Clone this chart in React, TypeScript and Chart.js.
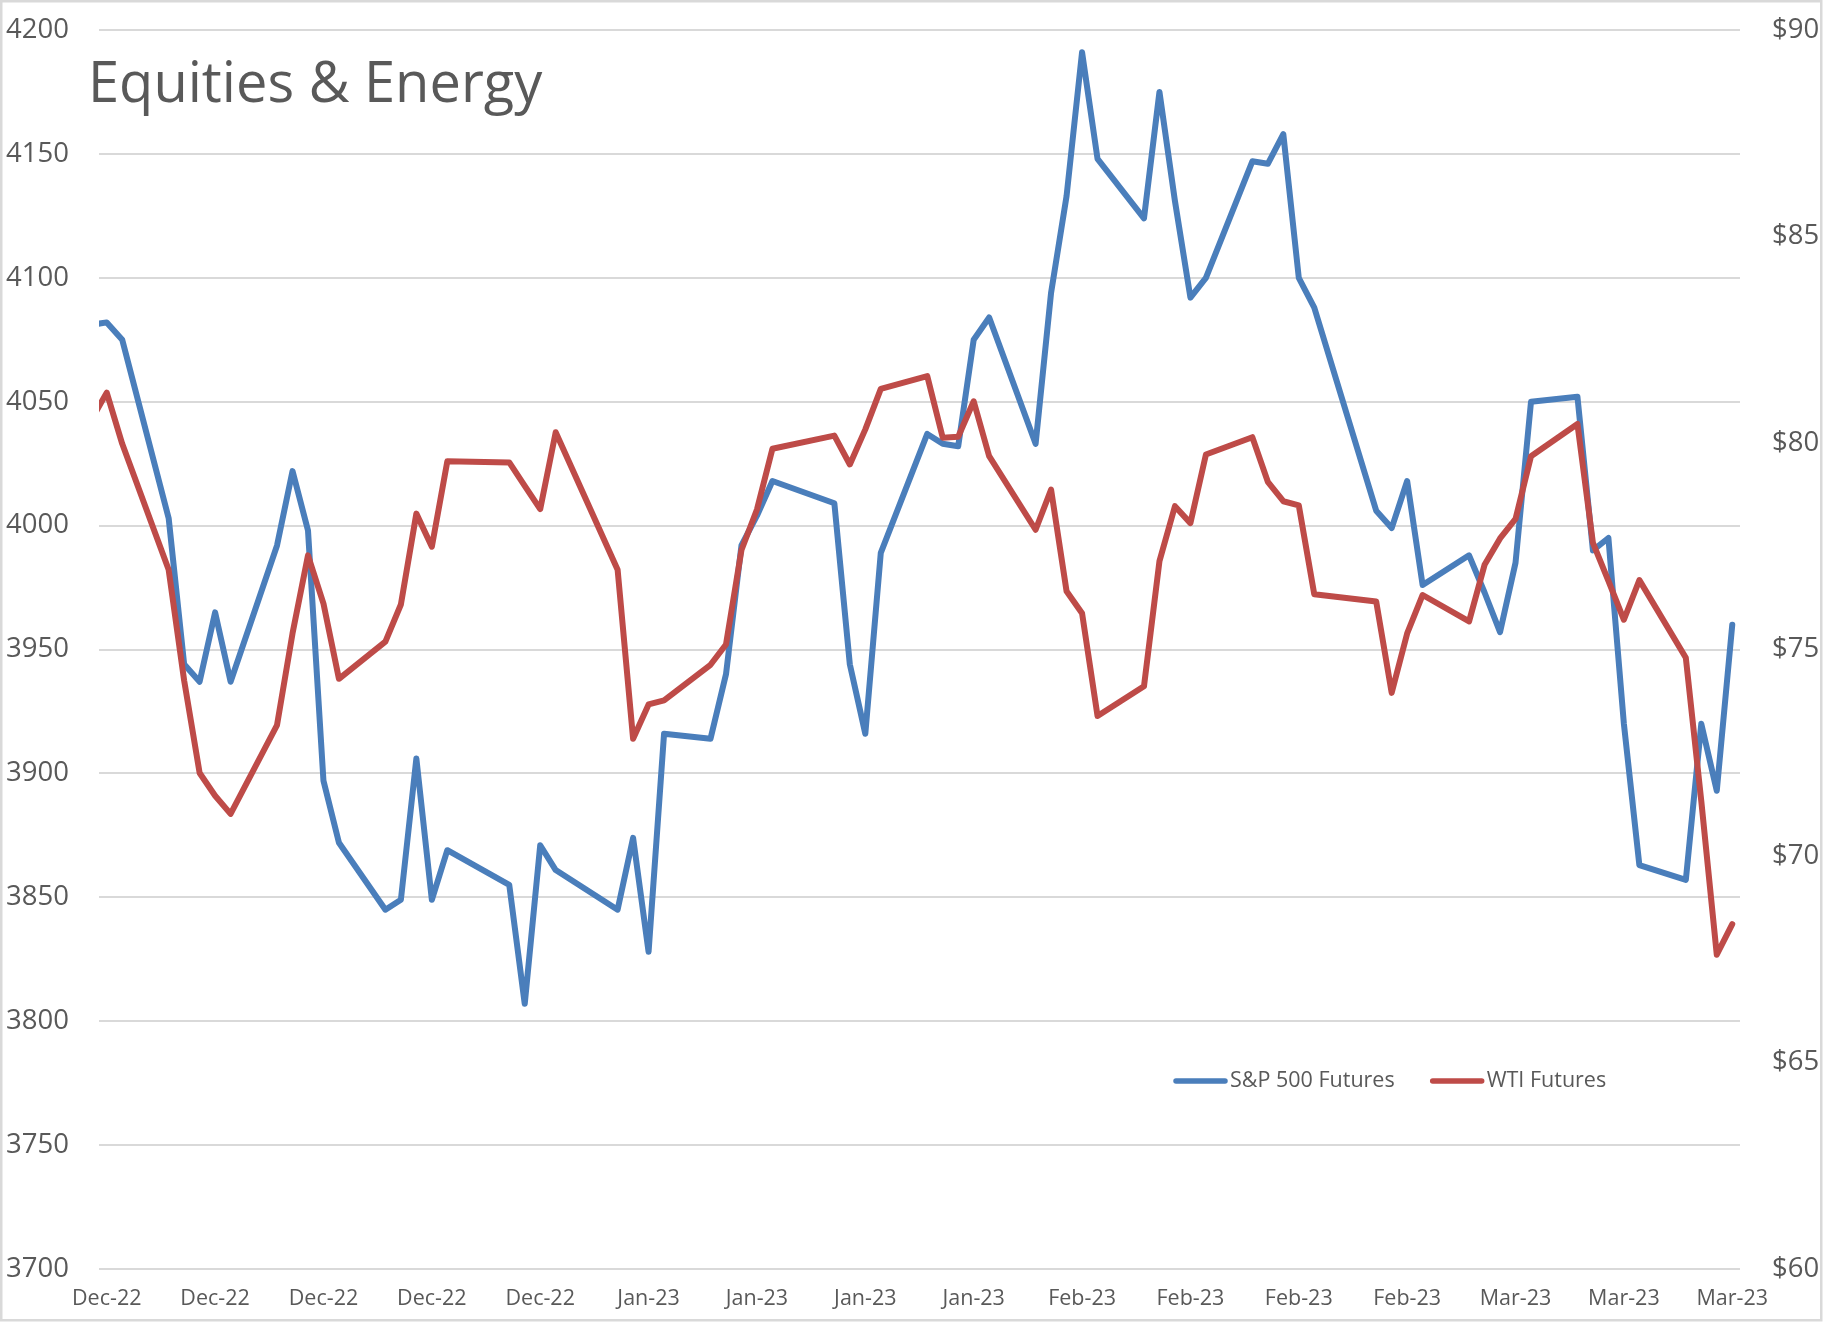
import React, { useEffect, useRef } from "react";
import { Chart, registerables } from "chart.js";

Chart.register(...registerables);

// ---- Data ----
const DATES = [
  "2022-11-30", "2022-12-01", "2022-12-02", "2022-12-05", "2022-12-06", "2022-12-07", "2022-12-08", "2022-12-09",
  "2022-12-12", "2022-12-13", "2022-12-14", "2022-12-15", "2022-12-16", "2022-12-19", "2022-12-20", "2022-12-21",
  "2022-12-22", "2022-12-23", "2022-12-27", "2022-12-28", "2022-12-29", "2022-12-30", "2023-01-03", "2023-01-04",
  "2023-01-05", "2023-01-06", "2023-01-09", "2023-01-10", "2023-01-11", "2023-01-12", "2023-01-13", "2023-01-17",
  "2023-01-18", "2023-01-19", "2023-01-20", "2023-01-23", "2023-01-24", "2023-01-25", "2023-01-26", "2023-01-27",
  "2023-01-30", "2023-01-31", "2023-02-01", "2023-02-02", "2023-02-03", "2023-02-06", "2023-02-07", "2023-02-08",
  "2023-02-09", "2023-02-10", "2023-02-13", "2023-02-14", "2023-02-15", "2023-02-16", "2023-02-17", "2023-02-21",
  "2023-02-22", "2023-02-23", "2023-02-24", "2023-02-27", "2023-02-28", "2023-03-01", "2023-03-02", "2023-03-03",
  "2023-03-06", "2023-03-07", "2023-03-08", "2023-03-09", "2023-03-10", "2023-03-13", "2023-03-14", "2023-03-15",
  "2023-03-16",
];

const SPX_FUTURES = [
  4081, 4082, 4075, 4003, 3944, 3937, 3965, 3937,
  3992, 4022, 3998, 3897, 3872, 3845, 3849, 3906,
  3849, 3869, 3855, 3807, 3871, 3861, 3845, 3874,
  3828, 3916, 3914, 3940, 3992, 4004, 4018, 4009,
  3944, 3916, 3989, 4037, 4033, 4032, 4075, 4084,
  4033, 4094, 4133, 4191, 4148, 4124, 4175, 4131,
  4092, 4100, 4147, 4146, 4158, 4100, 4088, 4006,
  3999, 4018, 3976, 3988, 3973, 3957, 3985, 4050,
  4052, 3990, 3995, 3920, 3863, 3857, 3920, 3893,
  3960,
];

const WTI_FUTURES = [
  80.55, 81.22, 79.98, 76.93, 74.25, 72.01, 71.46, 71.02,
  73.17, 75.39, 77.28, 76.11, 74.29, 75.19, 76.09, 78.29,
  77.49, 79.56, 79.53, 78.96, 78.4, 80.26, 76.93, 72.84,
  73.67, 73.77, 74.63, 75.12, 77.41, 78.39, 79.86, 80.18,
  79.48, 80.33, 81.31, 81.62, 80.13, 80.15, 81.01, 79.68,
  77.9, 78.87, 76.41, 75.88, 73.39, 74.11, 77.14, 78.47,
  78.06, 79.72, 80.14, 79.06, 78.59, 78.49, 76.34, 76.16,
  73.95, 75.39, 76.32, 75.68, 77.05, 77.69, 78.16, 79.68,
  80.46, 77.58, 76.66, 75.72, 76.68, 74.8, 71.33, 67.61,
  68.35,
];

const TICK_DATES = [
  "2022-12-01", "2022-12-08", "2022-12-15", "2022-12-22", "2022-12-29",
  "2023-01-05", "2023-01-12", "2023-01-19", "2023-01-26",
  "2023-02-02", "2023-02-09", "2023-02-16", "2023-02-23",
  "2023-03-02", "2023-03-09", "2023-03-16",
];
const TICK_LABELS = [
  "Dec-22", "Dec-22", "Dec-22", "Dec-22", "Dec-22",
  "Jan-23", "Jan-23", "Jan-23", "Jan-23",
  "Feb-23", "Feb-23", "Feb-23", "Feb-23",
  "Mar-23", "Mar-23", "Mar-23",
];

const START_DATE = "2022-12-01";
const END_DATE = "2023-03-16";
const TITLE = "Equities & Energy";

// ---- Styling ----
const W = 1825;
const H = 1323;
const FONT = "'Open Sans', sans-serif";
const TEXT = "#595959";
const GRID = "#d9d9d9";
const BLUE = "#4A7EBB";
const RED = "#BE4B48";

const dayOf = (d: string) =>
  Math.round((Date.parse(d + "T00:00:00Z") - Date.parse(START_DATE + "T00:00:00Z")) / 86400000);

export default function App() {
  const ref = useRef<HTMLCanvasElement | null>(null);

  useEffect(() => {
    if (!ref.current) return;
    const tickDays = TICK_DATES.map(dayOf);

    const decor = {
      id: "decor",
      beforeDraw(chart: any) {
        const ctx = chart.ctx;
        ctx.save();
        ctx.fillStyle = "#ffffff";
        ctx.fillRect(0, 0, chart.width, chart.height);
        ctx.restore();
      },
      afterDraw(chart: any) {
        const ctx = chart.ctx;
        ctx.save();
        // title inside plot
        ctx.fillStyle = TEXT;
        ctx.font = `56px ${FONT}`;
        ctx.textAlign = "left";
        ctx.textBaseline = "alphabetic";
        ctx.fillText(TITLE, 88, 102);

        // legend inside plot
        ctx.font = `21.5px ${FONT}`;
        ctx.textBaseline = "middle";
        let x = 1173;
        const y = 1081;
        chart.data.datasets.forEach((ds: any) => {
          ctx.strokeStyle = ds.borderColor;
          ctx.lineWidth = 5.5;
          ctx.lineCap = "round";
          ctx.beginPath();
          ctx.moveTo(x + 3, y);
          ctx.lineTo(x + 52, y);
          ctx.stroke();
          ctx.fillStyle = TEXT;
          ctx.fillText(ds.label, x + 57, y);
          x += 57 + ctx.measureText(ds.label).width + 35;
        });

        // outer frame
        ctx.strokeStyle = GRID;
        ctx.lineWidth = 2.5;
        ctx.strokeRect(1.25, 1.25, 1820, 1319);
        ctx.restore();
      },
    };

    const lineStyle = {
      pointRadius: 0,
      pointHoverRadius: 0,
      borderWidth: 6,
      borderJoinStyle: "round" as const,
      borderCapStyle: "round" as const,
      tension: 0,
      fill: false,
      clip: 0,
    };

    const noVerticalPad = (s: any) => {
      s.paddingTop = 0;
      s.paddingBottom = 0;
    };

    const chart = new Chart(ref.current, {
      type: "line",
      data: {
        datasets: [
          {
            label: "S&P 500 Futures",
            data: DATES.map((d, i) => ({ x: dayOf(d), y: SPX_FUTURES[i] })),
            yAxisID: "y",
            borderColor: BLUE,
            backgroundColor: BLUE,
            order: 2,
            ...lineStyle,
          },
          {
            label: "WTI Futures",
            data: DATES.map((d, i) => ({ x: dayOf(d), y: WTI_FUTURES[i] })),
            yAxisID: "y1",
            borderColor: RED,
            backgroundColor: RED,
            order: 1,
            ...lineStyle,
          },
        ],
      },
      options: {
        animation: false,
        responsive: false,
        maintainAspectRatio: false,
        layout: { padding: { top: 30, left: 0, right: 0, bottom: 0 } },
        plugins: {
          legend: { display: false },
          tooltip: { enabled: false },
          title: { display: false },
        },
        scales: {
          x: {
            type: "linear",
            min: dayOf(START_DATE) - 0.5,
            max: dayOf(END_DATE) + 0.5,
            afterBuildTicks: (s: any) => {
              s.ticks = tickDays.map((v) => ({ value: v }));
            },
            afterFit: (s: any) => {
              s.height = H - 1269;
              s.paddingLeft = 0;
              s.paddingRight = 0;
            },
            ticks: {
              autoSkip: false,
              maxRotation: 0,
              minRotation: 0,
              padding: 17,
              color: TEXT,
              font: { family: FONT, size: 21.5 },
              callback: (_v: any, i: number) => TICK_LABELS[i],
            },
            grid: { display: false, drawTicks: false },
            border: { display: false },
          },
          y: {
            position: "left",
            min: 3700,
            max: 4200,
            afterFit: (s: any) => {
              s.width = 99;
              noVerticalPad(s);
            },
            ticks: {
              stepSize: 50,
              padding: 30,
              color: TEXT,
              font: { family: FONT, size: 27.5 },
              callback: (v: any) => String(v),
            },
            grid: { color: GRID, lineWidth: 2, drawTicks: false },
            border: { display: false },
          },
          y1: {
            position: "right",
            min: 60,
            max: 90,
            afterFit: (s: any) => {
              s.width = W - 1740;
              noVerticalPad(s);
            },
            ticks: {
              stepSize: 5,
              padding: 32,
              color: TEXT,
              font: { family: FONT, size: 27.5 },
              callback: (v: any) => "$" + v,
            },
            grid: { display: false, drawTicks: false },
            border: { display: false },
          },
        },
      },
      plugins: [decor],
    } as any);

    return () => chart.destroy();
  }, []);

  return (
    <div style={{ position: "absolute", left: 0, top: 0, width: W, height: H, background: "#fff" }}>
      <canvas ref={ref} width={W} height={H} style={{ width: W, height: H, display: "block" }} />
    </div>
  );
}
